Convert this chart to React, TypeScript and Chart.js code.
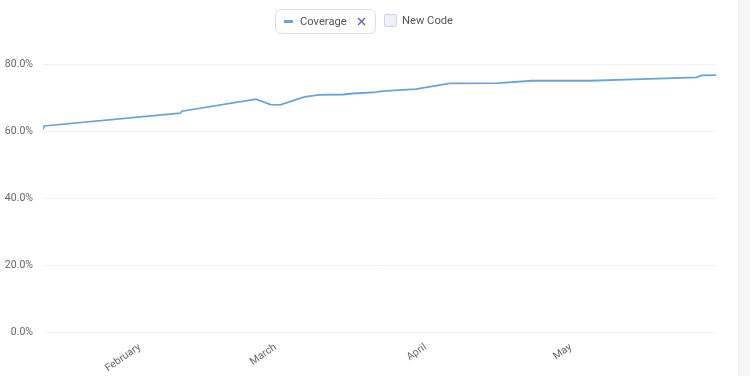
import React, { useEffect, useRef } from "react";
import { Chart, registerables } from "chart.js";

Chart.register(...registerables);

// Analysis timestamps (UTC) and coverage values (%)
const analysisDates: string[] = [
  "2023-01-12T00:00",
  "2023-01-12T06:00",
  "2023-02-09T08:00",
  "2023-02-09T16:00",
  "2023-02-25T00:00",
  "2023-02-28T00:00",
  "2023-03-02T00:00",
  "2023-03-07T00:00",
  "2023-03-10T00:00",
  "2023-03-15T00:00",
  "2023-03-17T00:00",
  "2023-03-22T00:00",
  "2023-03-23T00:00",
  "2023-03-30T00:00",
  "2023-04-06T00:00",
  "2023-04-16T00:00",
  "2023-04-23T00:00",
  "2023-05-05T00:00",
  "2023-05-14T00:00",
  "2023-05-27T00:00",
  "2023-05-28T00:00",
  "2023-05-31T00:00",
];
const coverageValues: number[] = [
  60.5, 61.5, 65.3, 65.9, 69.5, 67.9, 67.8, 70.2, 70.8, 70.9, 71.2, 71.6, 71.9,
  72.5, 74.2, 74.3, 75.0, 75.0, 75.4, 76.0, 76.6, 76.7,
];

const monthLabels: string[] = ["February", "March", "April", "May"];
const monthStarts: string[] = ["2023-02-01T00:00", "2023-03-01T00:00", "2023-04-01T00:00", "2023-05-01T00:00"];

const yTicks: number[] = [0, 20, 40, 60, 80];

const ORIGIN = Date.UTC(2023, 1, 1);
const toDay = (s: string) => (new Date(s + ":00Z").getTime() - ORIGIN) / 86400000;

const LINE_COLOR = "rgb(104, 163, 218)";
const FONT = "Roboto";

export default function App() {
  const ref = useRef<HTMLCanvasElement | null>(null);

  useEffect(() => {
    if (!ref.current) return;
    const points = analysisDates.map((d, i) => ({ x: toDay(d), y: coverageValues[i] }));
    const monthVals = monthStarts.map(toDay);
    const chart = new Chart(ref.current, {
      type: "line",
      data: {
        datasets: [
          {
            label: "Coverage",
            data: points,
            borderColor: LINE_COLOR,
            backgroundColor: LINE_COLOR,
            borderWidth: 1.8,
            pointRadius: 0,
            tension: 0,
            fill: false,
          },
        ],
      },
      options: {
        animation: false,
        responsive: false,
        devicePixelRatio: 1,
        layout: { padding: { top: 64, left: 0, right: 34, bottom: 0 } },
        plugins: { legend: { display: false }, tooltip: { enabled: false } },
        scales: {
          x: {
            type: "linear",
            min: points[0].x,
            max: points[points.length - 1].x,
            grid: { display: false },
            border: { display: false },
            afterBuildTicks: (scale: any) => {
              scale.ticks = monthVals.map((v) => ({ value: v }));
            },
            afterFit: (scale: any) => {
              scale.height = 44;
            },
            ticks: {
              autoSkip: false,
              minRotation: 35,
              maxRotation: 35,
              padding: 1,
              color: "#666",
              font: { family: FONT, size: 10.5 },
              callback: (value: any) => {
                const idx = monthVals.findIndex((v) => Math.abs(v - Number(value)) < 1e-6);
                return idx >= 0 ? monthLabels[idx] : "";
              },
            },
          },
          y: {
            min: yTicks[0],
            max: yTicks[yTicks.length - 1],
            afterBuildTicks: (scale: any) => {
              scale.ticks = yTicks.map((v) => ({ value: v }));
            },
            afterFit: (scale: any) => {
              scale.width = 43;
            },
            grid: { color: "rgba(0,0,0,0.06)", drawTicks: false },
            border: { display: false },
            ticks: {
              padding: 10,
              color: "#666",
              font: { family: FONT, size: 10.5 },
              callback: (value: any) => Number(value).toFixed(1) + "%",
            },
          },
        },
      },
    });
    return () => chart.destroy();
  }, []);

  const textStyle: React.CSSProperties = {
    fontFamily: FONT + ", sans-serif",
    fontSize: 11.2,
    color: "#555",
  };

  return (
    <div style={{ position: "fixed", left: 0, top: 0, width: 750, height: 376, background: "#fff", overflow: "hidden" }}>
      <canvas ref={ref} width={750} height={376} style={{ position: "absolute", left: 0, top: 0 }} />
      <div style={{ position: "absolute", left: 738, top: 0, width: 12, height: 376, background: "#f6f6f7", borderLeft: "1px solid #efefef" }} />
      <div
        style={{
          position: "absolute",
          left: 275,
          top: 9,
          width: 101,
          height: 25,
          boxSizing: "border-box",
          border: "1px solid #dcdde3",
          borderRadius: 6,
          display: "flex",
          alignItems: "center",
          paddingLeft: 8,
        }}
      >
        <span style={{ display: "inline-block", width: 9, height: 3, background: LINE_COLOR, marginRight: 7 }} />
        <span style={textStyle}>Coverage</span>
        <svg width="9" height="9" viewBox="0 0 9 9" style={{ marginLeft: 10 }}>
          <path d="M1 1 L8 8 M8 1 L1 8" stroke="#5b5bc4" strokeWidth="1.3" />
        </svg>
      </div>
      <div
        style={{
          position: "absolute",
          left: 384,
          top: 14,
          width: 13,
          height: 13,
          boxSizing: "border-box",
          border: "1px solid #cfd1ea",
          background: "#eef0fa",
          borderRadius: 2,
        }}
      />
      <div style={{ ...textStyle, position: "absolute", left: 402, top: 13, lineHeight: "16px" }}>New Code</div>
    </div>
  );
}
